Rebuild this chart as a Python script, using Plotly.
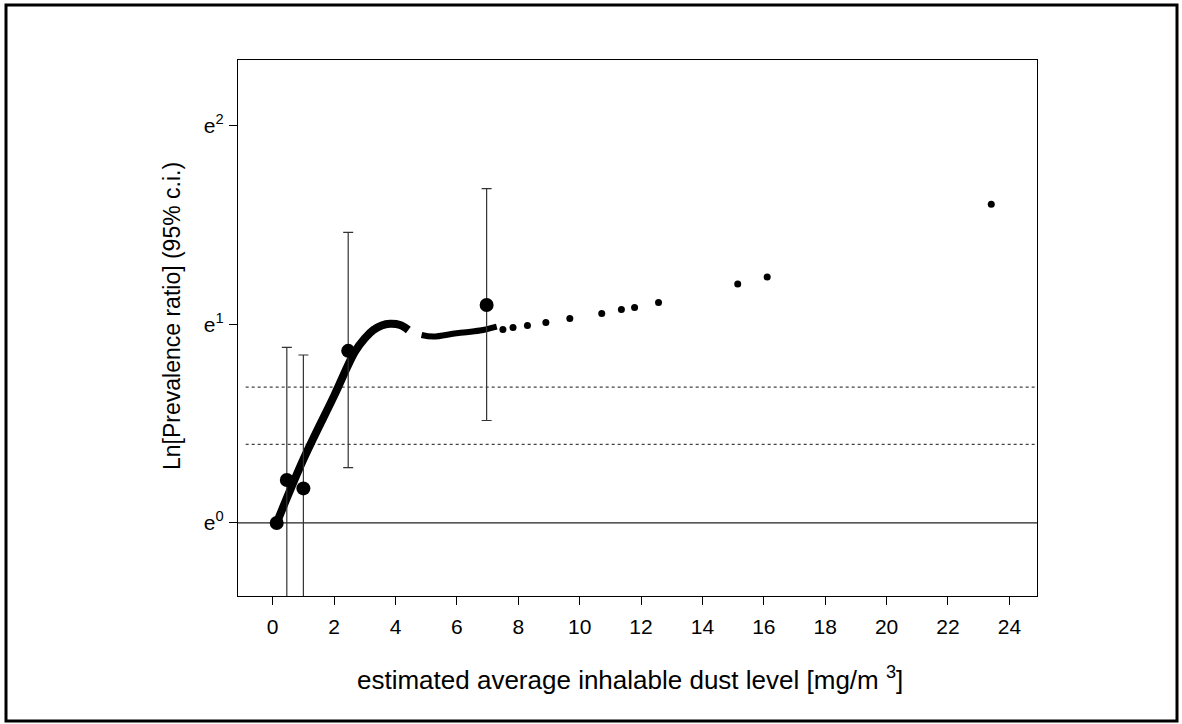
import plotly.graph_objects as go

# Category estimates (big dots) with 95% c.i.
pt_x = [0.13, 0.46, 1.0, 2.46, 6.97]
pt_y = [0.0, 0.216, 0.174, 0.867, 1.098]
pt_hi = [0.0, 0.884, 0.846, 1.464, 1.684]
pt_lo = [0.0, -0.6, -0.6, 0.279, 0.516]

# Smoothed curve (thick line), two segments
c1_x = [0.13, 1.0, 2.0, 2.68, 3.0, 3.28, 3.55, 3.82, 4.15, 4.42]
c1_y = [0.0, 0.32, 0.64, 0.863, 0.93, 0.972, 0.995, 1.003, 0.997, 0.972]
c2_x = [4.85, 5.23, 5.99, 6.75, 7.30]
c2_y = [0.947, 0.939, 0.956, 0.969, 0.989]

# Isolated curve dots at higher exposures
d_x = [7.50, 7.83, 8.30, 8.90, 9.68, 10.72, 11.36, 11.79, 12.57, 15.15, 16.11, 23.41]
d_y = [0.975, 0.985, 0.995, 1.010, 1.030, 1.055, 1.075, 1.085, 1.110, 1.204, 1.239, 1.605]

# Dotted reference lines
ref_levels = [0.684, 0.396]

x_ticks = list(range(0, 25, 2))
y_tick_vals = [0, 1, 2]
y_tick_text = ["e<sup>0</sup>", "e<sup>1</sup>", "e<sup>2</sup>"]

X_TITLE = "estimated average inhalable dust level [mg/m <sup>3</sup>]"
Y_TITLE = "Ln[Prevalence ratio] (95% c.i.)"

X_MIN, X_MAX = -1.13, 24.9
Y_MIN, Y_MAX = -0.368, 2.332

FONT = "Liberation Sans, Arial, sans-serif"

fig = go.Figure()

for lvl in ref_levels:
    fig.add_trace(go.Scatter(x=[X_MIN + 0.25, X_MAX], y=[lvl, lvl], mode="lines",
                             line=dict(color="#444444", width=1.3, dash="dot"),
                             hoverinfo="skip", showlegend=False))

fig.add_trace(go.Scatter(x=[X_MIN, X_MAX], y=[0, 0], mode="lines",
                         line=dict(color="#222222", width=1.3),
                         hoverinfo="skip", showlegend=False))

fig.add_trace(go.Scatter(x=c1_x, y=c1_y, mode="lines",
                         line=dict(color="black", width=8, shape="spline"),
                         showlegend=False))
fig.add_trace(go.Scatter(x=c2_x, y=c2_y, mode="lines",
                         line=dict(color="black", width=6, shape="spline"),
                         showlegend=False))
fig.add_trace(go.Scatter(x=d_x, y=d_y, mode="markers",
                         marker=dict(color="black", size=7),
                         showlegend=False))

fig.add_trace(go.Scatter(
    x=pt_x, y=pt_y, mode="markers",
    marker=dict(color="black", size=14),
    error_y=dict(type="data", symmetric=False,
                 array=[h - y for h, y in zip(pt_hi, pt_y)],
                 arrayminus=[y - l for y, l in zip(pt_y, pt_lo)],
                 color="#333333", thickness=1.2, width=5),
    cliponaxis=True, showlegend=False))

fig.update_xaxes(range=[X_MIN, X_MAX], tickvals=x_ticks, ticks="outside", ticklen=8,
                 tickcolor="black", showline=True, linecolor="black", linewidth=1.2,
                 mirror=True, showgrid=False, zeroline=False, ticklabelstandoff=4,
                 tickfont=dict(family=FONT, size=21, color="black"))
fig.update_yaxes(range=[Y_MIN, Y_MAX], tickvals=y_tick_vals, ticktext=y_tick_text,
                 ticks="outside", ticklen=8, tickcolor="black", showline=True,
                 linecolor="black", linewidth=1.2, mirror=True, showgrid=False,
                 zeroline=False, ticklabelstandoff=1,
                 tickfont=dict(family=FONT, size=21, color="black"))

L, R, T, B = 238, 145, 60, 128
W, H = 1182, 724
pw, ph = W - L - R, H - T - B

fig.add_annotation(text=X_TITLE, xref="paper", yref="paper",
                   x=(630 - L) / pw, y=(H - B - 678) / ph,
                   xanchor="center", yanchor="middle", showarrow=False,
                   font=dict(family=FONT, size=26, color="black"))
fig.add_annotation(text=Y_TITLE, xref="paper", yref="paper",
                   x=(172 - L) / pw, y=(H - B - 316) / ph, textangle=-90,
                   xanchor="center", yanchor="middle", showarrow=False,
                   font=dict(family=FONT, size=23, color="black"))

fig.add_shape(type="rect", xref="paper", yref="paper",
              x0=(6 - L) / pw, x1=(1177 - L) / pw,
              y0=(H - B - 721) / ph, y1=(H - B - 5) / ph,
              line=dict(color="black", width=3), fillcolor="rgba(0,0,0,0)")

fig.update_layout(width=W, height=H, margin=dict(l=L, r=R, t=T, b=B),
                  plot_bgcolor="white", paper_bgcolor="white",
                  font=dict(family=FONT, color="black"))

fig.write_html("out.html", config={"displayModeBar": False},
               post_script="document.body.style.margin='0';document.body.style.overflow='hidden';")
